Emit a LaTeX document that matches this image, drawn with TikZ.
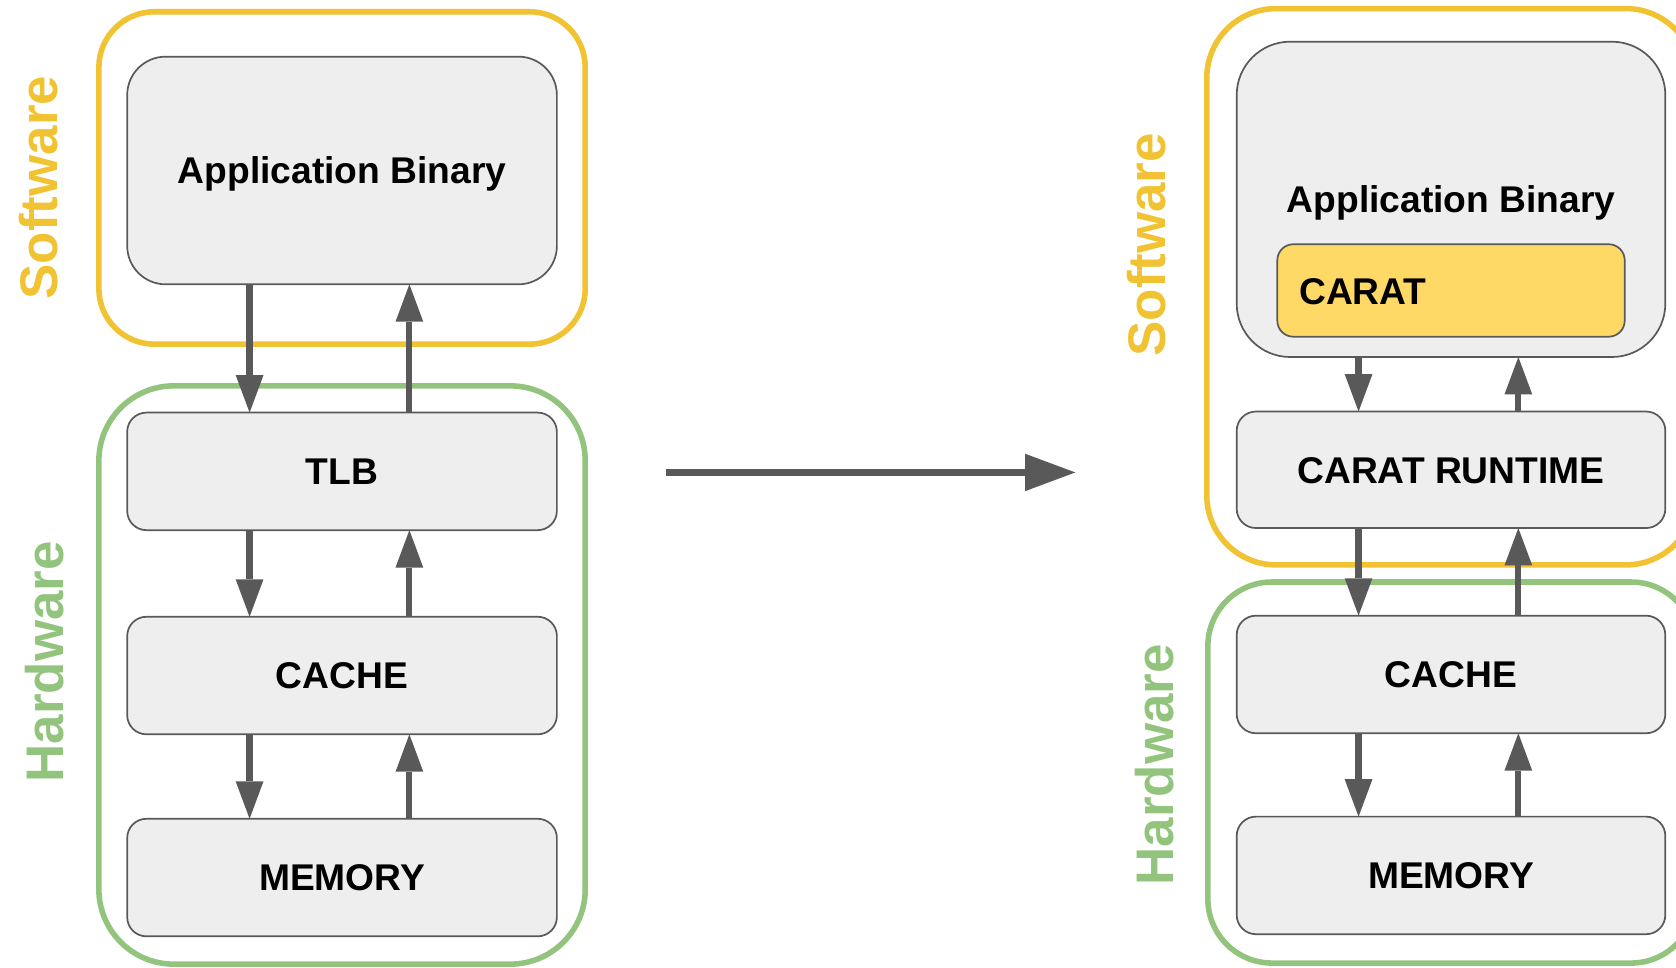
\documentclass[tikz,border=0pt]{standalone}
\usepackage{fontspec}
\setmainfont{Liberation Sans}
\usetikzlibrary{arrows.meta}

\definecolor{swyellow}{HTML}{F1C232}
\definecolor{hwgreen}{HTML}{93C47D}
\definecolor{blockfill}{HTML}{EEEEEE}
\definecolor{blockline}{HTML}{595959}
\definecolor{caratfill}{HTML}{FFD966}

\begin{document}
\begin{tikzpicture}[x=1pt,y=-1pt,
  % outer Software / Hardware frames
  frame/.style={draw=#1, line width=5.2pt, inner sep=0pt, outer sep=0pt},
  % grey blocks of the memory stack
  block/.style={draw=blockline, fill=blockfill, line width=1.6pt,
    inner sep=0pt, outer sep=0pt, text=black,
    font=\bfseries\fontsize{34.8}{42}\selectfont,
    text height=24.9pt, text depth=0pt},
  % vertical side labels
  sidelabel/.style={rotate=90, inner sep=0pt, text=#1,
    font=\bfseries\fontsize{49.5}{60}\selectfont,
    text height=35.6pt, text depth=0pt},
  % data-flow arrows between blocks
  flow/.style={draw=blockline, line width=5.8pt,
    -{Triangle[length=35pt,width=26pt,line width=0pt]}},
  bigflow/.style={draw=blockline, line width=6.8pt,
    -{Triangle[length=47pt,width=35pt,line width=0pt]}}
]
\clip (0,0) rectangle (1568,905);

% ---------------- conventional stack (left) ----------------
\node[frame=swyellow, rounded corners=52pt, minimum width=455pt, minimum height=311pt]
  (swL) at (320,166.5) {};
\node[frame=hwgreen, rounded corners=70pt, minimum width=455pt, minimum height=541pt]
  (hwL) at (320,631.5) {};

\node[block, rounded corners=36pt, minimum width=402pt, minimum height=213pt]
  (appL) at (320,159.5) {Application Binary};
\node[block, rounded corners=18pt, minimum width=402pt, minimum height=110pt]
  (tlb) at (320,441) {TLB};
\node[block, rounded corners=18pt, minimum width=402pt, minimum height=110pt]
  (cacheL) at (320,632) {CACHE};
\node[block, rounded corners=18pt, minimum width=402pt, minimum height=110pt]
  (memL) at (320,821) {MEMORY};

\node[sidelabel=swyellow] (swLabelL) at (36,175.5) {Software};
\node[sidelabel=hwgreen] (hwLabelL) at (42,619) {Hardware};

\coordinate (downL) at (233.5,0);
\coordinate (upL) at (383,0);
\draw[flow] (appL.south -| downL) -- (tlb.north -| downL);
\draw[flow] (tlb.north -| upL) -- (appL.south -| upL);
\draw[flow] (tlb.south -| downL) -- (cacheL.north -| downL);
\draw[flow] (cacheL.north -| upL) -- (tlb.south -| upL);
\draw[flow] (cacheL.south -| downL) -- (memL.north -| downL);
\draw[flow] (memL.north -| upL) -- (cacheL.south -| upL);

% ---------------- transition arrow ----------------
\coordinate (moveFrom) at (623,442);
\coordinate (moveTo) at (1006,442);
\draw[bigflow] (moveFrom) -- (moveTo);

% ---------------- CARAT stack (right) ----------------
\node[frame=swyellow, rounded corners=65pt, minimum width=457pt, minimum height=520.5pt]
  (swR) at (1357.5,268.25) {};
\node[frame=hwgreen, rounded corners=60pt, minimum width=456pt, minimum height=356.5pt]
  (hwR) at (1358,722.75) {};

\node[block, rounded corners=50pt, minimum width=401pt, minimum height=295pt]
  (appR) at (1357.5,186.5) {Application Binary};
\node[block, fill=caratfill, rounded corners=15pt, minimum width=325pt, minimum height=86.5pt]
  (carat) at (1357.5,271.75) {};
\node[block, fill=none, draw=none, anchor=west] (caratText) at (1215.5,272) {CARAT};
\node[block, rounded corners=18pt, minimum width=401pt, minimum height=109pt]
  (runtime) at (1357.5,439.5) {CARAT RUNTIME};
\node[block, rounded corners=18pt, minimum width=401pt, minimum height=110pt]
  (cacheR) at (1357.5,631) {CACHE};
\node[block, rounded corners=18pt, minimum width=401pt, minimum height=110pt]
  (memR) at (1357.5,819) {MEMORY};

\node[sidelabel=swyellow] (swLabelR) at (1073,229) {Software};
\node[sidelabel=hwgreen] (hwLabelR) at (1080,715.5) {Hardware};

\coordinate (downR) at (1271,0);
\coordinate (upR) at (1420.5,0);
\draw[flow] (appR.south -| downR) -- (runtime.north -| downR);
\draw[flow] (runtime.north -| upR) -- (appR.south -| upR);
\draw[flow] (runtime.south -| downR) -- (cacheR.north -| downR);
\draw[flow] (cacheR.north -| upR) -- (runtime.south -| upR);
\draw[flow] (cacheR.south -| downR) -- (memR.north -| downR);
\draw[flow] (memR.north -| upR) -- (cacheR.south -| upR);
\end{tikzpicture}
\end{document}
